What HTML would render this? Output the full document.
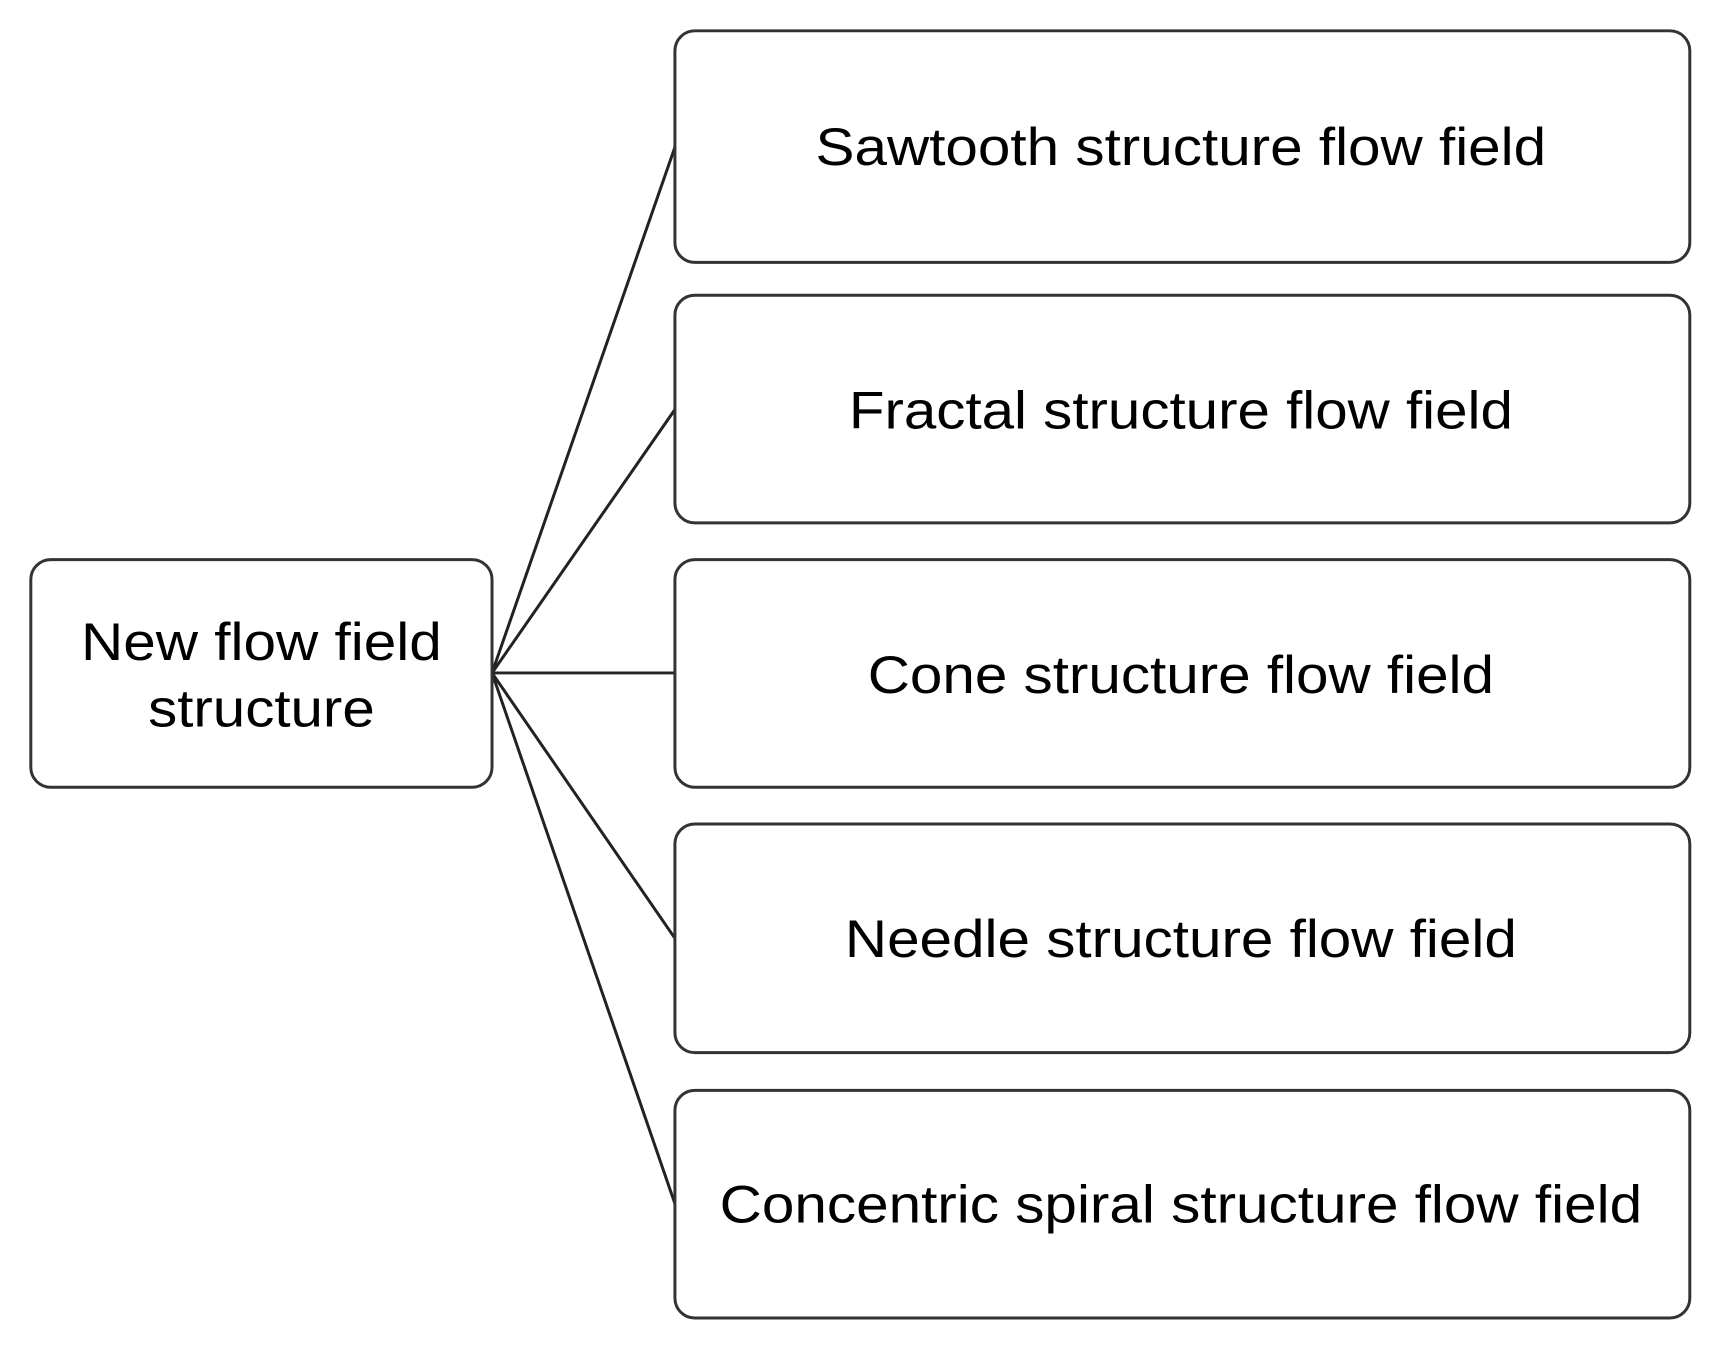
<!DOCTYPE html>
<html><head><style>html,body{margin:0;padding:0;background:#fff;}</style></head>
<body>
<svg width="1715" height="1362" viewBox="0 0 1715 1362" xmlns="http://www.w3.org/2000/svg" font-family="Liberation Sans, Arial, sans-serif" font-size="53" fill="#000">
<g transform="scale(0.994)">
<g stroke="#222" stroke-width="3" fill="none">
<line x1="495" y1="677" x2="679" y2="148"/>
<line x1="495" y1="677" x2="679" y2="412"/>
<line x1="495" y1="677" x2="679" y2="677"/>
<line x1="495" y1="677" x2="679" y2="944"/>
<line x1="495" y1="677" x2="679" y2="1211"/>
</g>
<g stroke="#333" stroke-width="3" fill="#fff">
<rect x="31" y="563" width="464" height="229" rx="20"/>
<rect x="679" y="31" width="1021" height="233" rx="20"/>
<rect x="679" y="297" width="1021" height="229" rx="20"/>
<rect x="679" y="563" width="1021" height="229" rx="20"/>
<rect x="679" y="829" width="1021" height="230" rx="20"/>
<rect x="679" y="1097" width="1021" height="229" rx="20"/>
</g>
<g text-anchor="middle">
<text x="263" y="664" textLength="363" lengthAdjust="spacingAndGlyphs">New flow field</text>
<text x="263" y="731" textLength="228" lengthAdjust="spacingAndGlyphs">structure</text>
<text x="1188" y="166" textLength="735" lengthAdjust="spacingAndGlyphs">Sawtooth structure flow field</text>
<text x="1188" y="431" textLength="668" lengthAdjust="spacingAndGlyphs">Fractal structure flow field</text>
<text x="1188" y="697" textLength="630" lengthAdjust="spacingAndGlyphs">Cone structure flow field</text>
<text x="1188" y="963" textLength="676" lengthAdjust="spacingAndGlyphs">Needle structure flow field</text>
<text x="1188" y="1230" textLength="928" lengthAdjust="spacingAndGlyphs">Concentric spiral structure flow field</text>
</g>
</g>
</svg>
</body></html>
